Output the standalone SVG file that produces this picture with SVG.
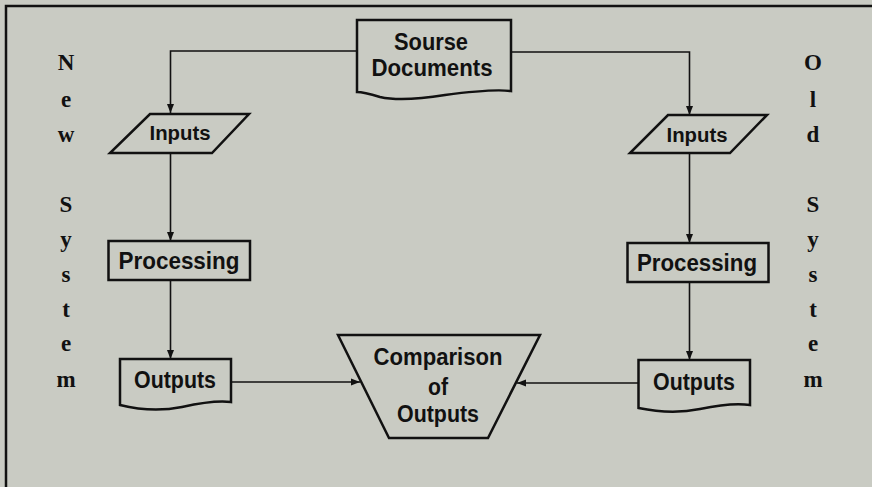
<svg xmlns="http://www.w3.org/2000/svg" width="872" height="487" viewBox="0 0 872 487">
<style>
.shape{fill:none;stroke:#111;stroke-width:2.5;stroke-linejoin:miter}
.lbl{font-family:"Liberation Sans",Arial,sans-serif;font-weight:bold;font-size:23px;fill:#111;text-anchor:middle}
.small{font-size:20px}
.side{font-family:"Liberation Serif","Times New Roman",serif;font-weight:bold;font-size:23px;fill:#111;text-anchor:middle}
.conn{fill:none;stroke:#111;stroke-width:1.6}
</style>
<defs>
<marker id="ah" markerUnits="userSpaceOnUse" markerWidth="10" markerHeight="8" refX="9" refY="4" orient="auto">
<path d="M0,0.5 L9,4 L0,7.5 Z" fill="#111"/>
</marker>
</defs>
<rect x="0" y="0" width="872" height="487" fill="#c9cbc3"/>
<path d="M6,487 V6 H872" fill="none" stroke="#111" stroke-width="2.5"/>

<g id="side-new">
<text class="side" x="66" y="70">N</text>
<text class="side" x="66" y="107">e</text>
<text class="side" x="66" y="142">w</text>
<text class="side" x="66" y="212">S</text>
<text class="side" x="66" y="247">y</text>
<text class="side" x="66" y="282">s</text>
<text class="side" x="66" y="317">t</text>
<text class="side" x="66" y="351">e</text>
<text class="side" x="66" y="387">m</text>
</g>
<g id="side-old">
<text class="side" x="813" y="70">O</text>
<text class="side" x="813" y="107">l</text>
<text class="side" x="813" y="142">d</text>
<text class="side" x="813" y="212">S</text>
<text class="side" x="813" y="247">y</text>
<text class="side" x="813" y="282">s</text>
<text class="side" x="813" y="317">t</text>
<text class="side" x="813" y="351">e</text>
<text class="side" x="813" y="387">m</text>
</g>

<g id="connectors">
<path class="conn" d="M357,51 H170.5 V113" marker-end="url(#ah)"/>
<path class="conn" d="M511,52 H689.5 V115" marker-end="url(#ah)"/>
<path class="conn" d="M170.5,153 V241" marker-end="url(#ah)"/>
<path class="conn" d="M170.5,280 V359" marker-end="url(#ah)"/>
<path class="conn" d="M689.5,153 V243" marker-end="url(#ah)"/>
<path class="conn" d="M689.5,282 V360" marker-end="url(#ah)"/>
<path class="conn" d="M231,382 H360" marker-end="url(#ah)"/>
<path class="conn" d="M638.5,383 H517" marker-end="url(#ah)"/>
</g>

<g id="source-documents">
<path class="shape" d="M357,20 H511 V91 C495,89 475,91 445,95 C420,99 398,101 380,97 C370,94 363,92 357,92 Z"/>
<text class="lbl" x="431" y="50" textLength="74" lengthAdjust="spacingAndGlyphs">Sourse</text>
<text class="lbl" x="432" y="76" textLength="121" lengthAdjust="spacingAndGlyphs">Documents</text>
</g>

<g id="inputs-new">
<path class="shape" d="M150,114 H249 L212,153 H110 Z"/>
<text class="lbl small" x="180" y="140" textLength="61" lengthAdjust="spacingAndGlyphs">Inputs</text>
</g>
<g id="inputs-old">
<path class="shape" d="M668,115 H767 L730,153 H630 Z"/>
<text class="lbl small" x="697" y="142" textLength="61" lengthAdjust="spacingAndGlyphs">Inputs</text>
</g>

<g id="processing-new">
<rect class="shape" x="108.5" y="241" width="141.5" height="39"/>
<text class="lbl" x="179" y="269" textLength="121" lengthAdjust="spacingAndGlyphs">Processing</text>
</g>
<g id="processing-old">
<rect class="shape" x="627.5" y="243" width="141" height="39"/>
<text class="lbl" x="697" y="271" textLength="120" lengthAdjust="spacingAndGlyphs">Processing</text>
</g>

<g id="outputs-new">
<path class="shape" d="M120,359 H231 V402 C216,400 200,403 182,407 C162,411 140,410 120,405 Z"/>
<text class="lbl" x="175" y="388" textLength="82" lengthAdjust="spacingAndGlyphs">Outputs</text>
</g>
<g id="outputs-old">
<path class="shape" d="M638.5,360 H750 V405 C735,403 719,405 700,409 C680,413 658,412 638.5,408 Z"/>
<text class="lbl" x="694" y="390" textLength="82" lengthAdjust="spacingAndGlyphs">Outputs</text>
</g>

<g id="comparison">
<path class="shape" d="M338,335 H540 L488,438 H389 Z"/>
<text class="lbl" x="438" y="365" textLength="129" lengthAdjust="spacingAndGlyphs">Comparison</text>
<text class="lbl" x="438" y="395" textLength="20" lengthAdjust="spacingAndGlyphs">of</text>
<text class="lbl" x="438" y="422" textLength="82" lengthAdjust="spacingAndGlyphs">Outputs</text>
</g>
</svg>
